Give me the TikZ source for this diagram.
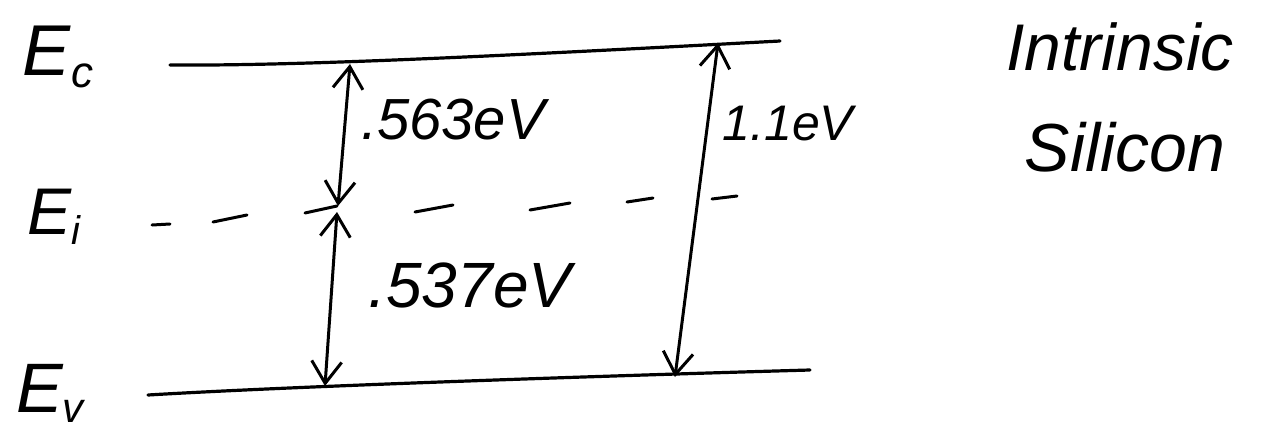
\documentclass[tikz,border=0pt]{standalone}
\usepackage{fontspec}
\setmainfont{Liberation Sans}
\usetikzlibrary{arrows.meta}
\newcommand{\lblsize}[1]{\fontsize{#1}{#1}\selectfont\itshape}
\begin{document}
\begin{tikzpicture}[x=1pt,y=-1pt,
  lvl/.style={line width=3.2pt, line cap=round},
  dsh/.style={line width=3pt, line cap=round},
  gap/.style={line width=3pt, line cap=round,
    {Straight Barb[length=22pt,width=30pt,line width=3pt]}-{Straight Barb[length=22pt,width=30pt,line width=3pt]}},
  lbl/.style={inner sep=0pt, anchor=center},
]
\useasboundingbox (0,0) rectangle (1262,442);

% level end points
\coordinate (c1) at (170,65);
\coordinate (c2) at (780,41);
\coordinate (v1) at (148,395);
\coordinate (v2) at (810,370);
% arrow end points
\coordinate (a1t) at (350,64);
\coordinate (a1b) at (338,206);
\coordinate (a2t) at (337,212);
\coordinate (a2b) at (325,386);
\coordinate (a3t) at (718,43);
\coordinate (a3b) at (675,377);

% conduction and valence band edges
\draw[lvl] (c1) .. controls (300,66) and (500,56) .. (c2);
\draw[lvl] (v1) .. controls (300,386) and (600,376) .. (v2);

% intrinsic level (dashed)
\foreach \xa/\ya/\xb/\yb in {152/225/170/224, 213/222/247/215, 305/213/337/206,
  415/212/453/205, 530/210/570/203, 627/202/653/198, 712/199/737/196}
  \draw[dsh] (\xa,\ya) -- (\xb,\yb);

% energy gaps
\draw[gap] (a1t) -- (a1b);
\draw[gap] (a2t) -- (a2b);
\draw[gap] (a3t) -- (a3b);

% labels
\node[lbl] (lec) at (58,57) {\lblsize{72}E\raisebox{-12pt}{\lblsize{44}c}};
\node[lbl] (lei) at (54,217) {\lblsize{66}E\raisebox{-10pt}{\lblsize{40}i}};
\node[lbl] (lev) at (50,393) {\lblsize{70}E\raisebox{-10pt}{\lblsize{42}v}};
\node[lbl] (l563) at (453,120) {\lblsize{58}.563eV};
\node[lbl] (l537) at (470,285) {\lblsize{64}.537eV};
\node[lbl] (l11) at (788,124) {\lblsize{50}1.1eV};
\node[lbl] (lin) at (1120,47) {\lblsize{66}Intrinsic};
\node[lbl] (lsi) at (1125,147) {\lblsize{68}Silicon};
\end{tikzpicture}
\end{document}
